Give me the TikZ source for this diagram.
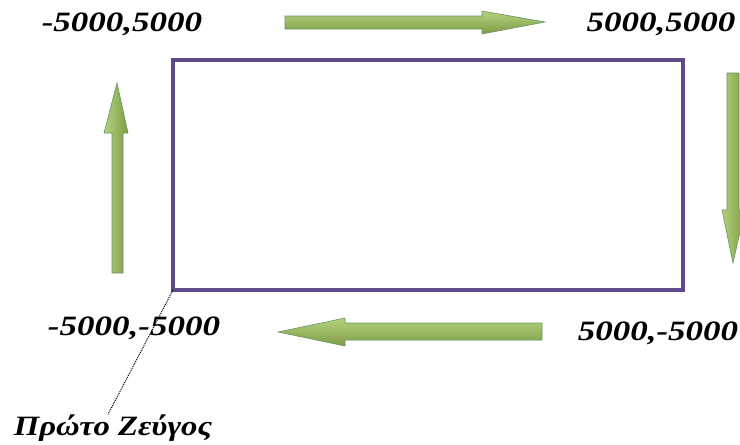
\documentclass[tikz,border=0pt]{standalone}
\usepackage{fontspec}
\setmainfont{Liberation Serif}
\begin{document}
\begin{tikzpicture}[x=1pt,y=-1pt,
  lbl/.style={inner sep=0pt, font=\fontsize{28}{30}\selectfont\bfseries\itshape},
  garrowh/.style={draw=green!30!black!60, line width=0.6pt, top color=gArrowLight, bottom color=gArrowDark},
  garrowv/.style={draw=green!30!black!60, line width=0.6pt, left color=gArrowLight, right color=gArrowDark}]
\definecolor{gArrowLight}{HTML}{B4D27E}
\definecolor{gArrowDark}{HTML}{7E9C45}
\definecolor{rectPurple}{HTML}{5F4B8B}
\useasboundingbox (0,0) rectangle (740,445);
% rectangle
\coordinate (tl) at (173,60);
\coordinate (br) at (683,290);
\coordinate (bl) at (173,290);
\draw[rectPurple, line width=3.6pt] (tl) rectangle (br);
% arrows
\path[garrowh] (285,16) -- (482,16) -- (482,11) -- (545,22) -- (482,34) -- (482,29) -- (285,29) -- cycle;
\path[garrowh] (542,323) -- (345,323) -- (345,318) -- (278,332) -- (345,346) -- (345,340) -- (542,340) -- cycle;
\path[garrowv] (112,273) -- (112,133) -- (104,133) -- (117,83) -- (128,133) -- (123,133) -- (123,273) -- cycle;
\begin{scope}
\clip (0,0) rectangle (740,445);
\path[garrowv] (727,73) -- (727,210) -- (722,210) -- (733,263) -- (745,210) -- (739,210) -- (739,73) -- cycle;
\end{scope}
% labels
\node[lbl] (nw) at (122,24) {\scalebox{1.25}[1]{-5000,5000}};
\node[lbl] (ne) at (661,24) {\scalebox{1.25}[1]{5000,5000}};
\node[lbl] (sw) at (134,328) {\scalebox{1.25}[1]{-5000,-5000}};
\node[lbl] (se) at (658,333) {\scalebox{1.25}[1]{5000,-5000}};
\node[lbl] (first) at (113,428) {\scalebox{1.17}[1]{Πρώτο Ζεύγος}};
\draw[black, line width=1pt, densely dotted] (bl) -- (first.north -| 108,0);
\end{tikzpicture}
\end{document}
